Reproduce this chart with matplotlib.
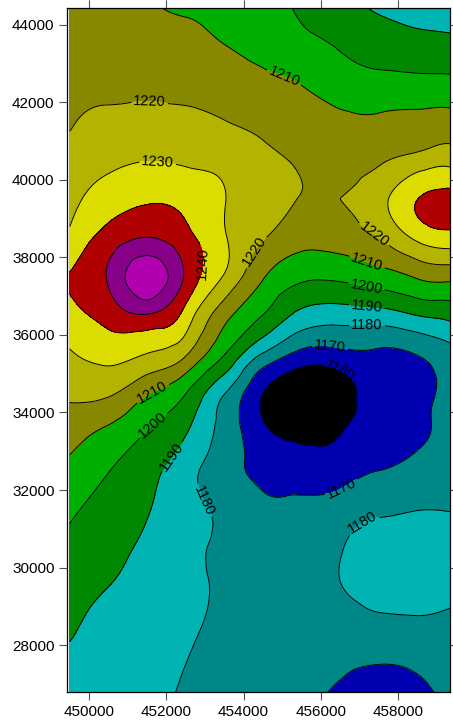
import matplotlib
matplotlib.use("Agg")
import matplotlib.pyplot as plt
import matplotlib.tri as mtri
import numpy as np

plt.rcParams['font.family'] = ['Liberation Sans', 'DejaVu Sans']

# grid nodes (easting / northing) and values
easting = [449500, 450500, 451500, 452500, 453500, 454500,
           455500, 456500, 457500, 458500, 459500]
northing = [44500, 43500, 42500, 41500, 40500, 39500, 38500, 37500, 36500,
            35500, 34500, 33500, 32500, 31500, 30500, 29500, 28500, 27500, 26500]
values = [
    [1214.5, 1213.5, 1211.0, 1208.0, 1205.0, 1202.0, 1198.7, 1193.6, 1188.5, 1186.5, 1185.0],
    [1216.0, 1216.0, 1215.0, 1213.5, 1210.0, 1206.2, 1202.6, 1199.0, 1195.0, 1193.0, 1192.3],
    [1218.0, 1218.0, 1217.8, 1216.8, 1215.0, 1212.4, 1209.6, 1205.0, 1203.1, 1202.8, 1202.4],
    [1219.2, 1222.0, 1223.0, 1222.5, 1220.3, 1217.6, 1214.5, 1212.0, 1211.8, 1212.6, 1213.3],
    [1223.4, 1227.6, 1229.8, 1228.7, 1227.2, 1222.8, 1218.7, 1216.5, 1218.8, 1224.0, 1225.7],
    [1227.0, 1235.0, 1239.0, 1237.0, 1230.3, 1225.1, 1219.6, 1220.0, 1226.5, 1240.0, 1243.0],
    [1232.0, 1244.0, 1250.5, 1243.0, 1231.0, 1220.6, 1213.5, 1214.5, 1220.0, 1232.0, 1236.0],
    [1240.5, 1251.0, 1267.0, 1248.5, 1229.0, 1210.8, 1202.0, 1202.0, 1205.5, 1211.0, 1212.4],
    [1236.5, 1244.0, 1249.0, 1236.0, 1213.4, 1199.7, 1187.0, 1184.5, 1185.5, 1190.0, 1194.0],
    [1229.0, 1232.7, 1229.6, 1221.0, 1200.3, 1179.0, 1167.0, 1167.0, 1168.0, 1170.3, 1178.0],
    [1222.0, 1221.5, 1211.0, 1200.3, 1180.5, 1160.0, 1151.0, 1155.5, 1163.5, 1167.5, 1175.0],
    [1214.0, 1207.7, 1199.7, 1190.8, 1176.5, 1162.0, 1157.0, 1159.5, 1165.0, 1168.5, 1174.0],
    [1207.4, 1200.3, 1193.5, 1184.0, 1174.0, 1167.0, 1164.5, 1166.0, 1170.0, 1173.0, 1175.0],
    [1201.6, 1196.0, 1190.7, 1184.0, 1178.0, 1172.5, 1172.5, 1175.0, 1178.5, 1179.8, 1179.5],
    [1197.7, 1193.0, 1188.0, 1183.0, 1178.5, 1175.0, 1174.0, 1179.5, 1183.0, 1184.5, 1184.0],
    [1193.8, 1190.0, 1186.0, 1183.0, 1178.5, 1175.5, 1174.5, 1179.7, 1183.0, 1184.0, 1182.0],
    [1191.4, 1187.0, 1184.0, 1182.0, 1177.5, 1175.0, 1174.0, 1175.0, 1177.5, 1178.0, 1177.5],
    [1188.0, 1185.5, 1183.5, 1180.0, 1176.0, 1174.0, 1172.5, 1171.0, 1170.0, 1171.0, 1173.0],
    [1186.0, 1184.0, 1181.5, 1178.5, 1175.5, 1173.5, 1171.5, 1168.5, 1167.0, 1168.5, 1171.0],
]

levels = [1160, 1170, 1180, 1190, 1200, 1210, 1220, 1230, 1240, 1250, 1260]
fill_colors = ['#000000', '#0000b0', '#008888', '#00b4b4', '#008800', '#00b000',
               '#888800', '#b4b400', '#dcdc00', '#b00000', '#880088', '#b000b0']
xticks = [450000, 452000, 454000, 456000, 458000]
yticks = [28000, 30000, 32000, 34000, 36000, 38000, 40000, 42000, 44000]

# where the contour labels sit
label_spots = [(455066, 42710), (451571, 42090), (451778, 40439), (452788, 37858),
               (454341, 38116), (457344, 38555), (457189, 37858), (457189, 37290),
               (457189, 36748), (457189, 36258), (456232, 35690), (456413, 34916),
               (451649, 34503), (451752, 33548), (452270, 32774), (453125, 31819),
               (456490, 32129), (457189, 30968)]

X, Y = np.meshgrid(easting, northing)
Z = np.array(values)
tri = mtri.Triangulation(X.ravel(), Y.ravel())
interp = mtri.CubicTriInterpolator(tri, Z.ravel(), kind='min_E')
refiner = mtri.UniformTriRefiner(tri)
tri_f, z_f = refiner.refine_field(Z.ravel(), triinterpolator=interp, subdiv=4)

fig = plt.figure(figsize=(4.53, 7.23), dpi=100)
ax = fig.add_axes([67 / 453, 1 - 692.3 / 723, (450 - 67) / 453, (692.3 - 8.3) / 723])

fill_levels = [1000] + levels + [1400]
ax.tricontourf(tri_f, z_f, levels=fill_levels, colors=fill_colors)
cs = ax.tricontour(tri_f, z_f, levels=levels, colors='black', linewidths=0.7)
ax.clabel(cs, fmt='%d', fontsize=10.5, inline=True, inline_spacing=2,
          manual=label_spots, colors='black')

ax.set_xlim(449430, 459340)
ax.set_ylim(26780, 44430)
ax.set_xticks(xticks)
ax.set_yticks(yticks)
ax.set_xticklabels([str(v) for v in xticks])
ax.set_yticklabels([str(v) for v in yticks])
ax.tick_params(direction='out', length=6, width=0.8, color='#505050',
               labelsize=11, top=True, right=True, pad=3)
for s in ax.spines.values():
    s.set_linewidth(0.9)

fig.savefig('out.png', dpi=100)
